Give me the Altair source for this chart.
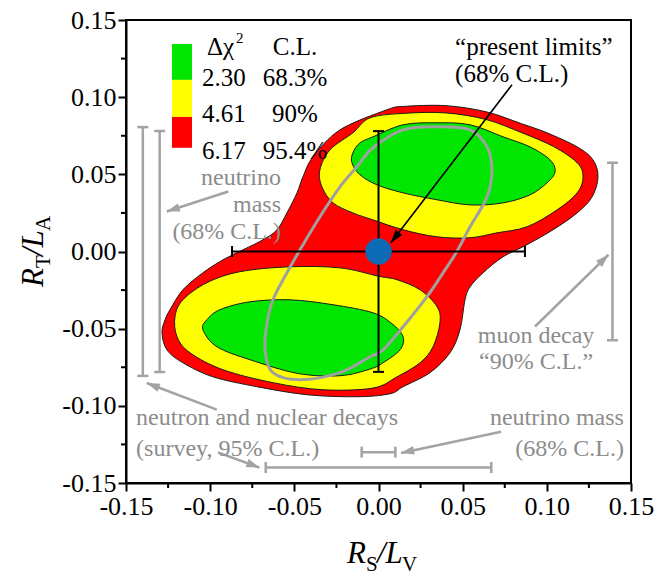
import math
import altair as alt
import pandas as pd

W, H = 505, 463
LIM = 0.15
SERIF = "Liberation Serif"
GRAY_TXT = "#8c8c8c"
GRAY_LN = "#a3a3a3"
BLUE = "#0d6ab4"
RED, YELLOW, GREEN = "#ff0000", "#ffff00", "#00e600"

MAJOR = [-0.15, -0.10, -0.05, 0.0, 0.05, 0.10, 0.15]
MINOR = [-0.125, -0.075, -0.025, 0.025, 0.075, 0.125]

# Δχ² = 6.17 (95.4% C.L.) allowed region, outline in (R_S/L_V, R_T/L_A)
RED_OUTLINE = [
    (-0.0229, 0.0788), (0.0049, 0.0918), (0.0150, 0.0940), (0.0400, 0.0945),
    (0.0640, 0.0905), (0.0850, 0.0828), (0.1001, 0.0769), (0.1180, 0.0678),
    (0.1274, 0.0594), (0.1304, 0.0484), (0.1269, 0.0354), (0.1180, 0.0250),
    (0.1037, 0.0141), (0.0870, 0.0037), (0.0740, -0.0034), (0.0621, -0.0138),
    (0.0544, -0.0229), (0.0514, -0.0313), (0.0484, -0.0507), (0.0425, -0.0656),
    (0.0306, -0.0785), (0.0146, -0.0876), (0.0068, -0.0922), (-0.0128, -0.0941),
    (-0.0425, -0.0928), (-0.0722, -0.0876), (-0.0983, -0.0812), (-0.1162, -0.0721),
    (-0.1257, -0.0637), (-0.1286, -0.0527), (-0.1268, -0.0443), (-0.1239, -0.0378),
    (-0.1162, -0.0248), (-0.1043, -0.0138), (-0.0924, -0.0054), (-0.0805, 0.0011),
    (-0.0686, 0.0076), (-0.0603, 0.0141), (-0.0544, 0.0250), (-0.0484, 0.0380),
    (-0.0449, 0.0484), (-0.0389, 0.0613),
]

# Δχ² = 4.61 (90% C.L.) regions
YELLOW_UPPER = [
    (-0.0152, 0.0769), (-0.0050, 0.0866), (0.0150, 0.0895), (0.0400, 0.0898),
    (0.0640, 0.0855), (0.0850, 0.0770), (0.1040, 0.0680), (0.1180, 0.0575),
    (0.1215, 0.0484), (0.1180, 0.0380), (0.1061, 0.0270), (0.0882, 0.0160),
    (0.0704, 0.0121), (0.0544, 0.0089), (0.0348, 0.0095), (0.0146, 0.0141),
    (-0.0033, 0.0205), (-0.0152, 0.0250), (-0.0270, 0.0315), (-0.0336, 0.0419),
    (-0.0348, 0.0529), (-0.0288, 0.0659),
]
YELLOW_LOWER = [
    (-0.0823, -0.0131), (-0.0526, -0.0099), (-0.0229, -0.0106), (0.0000, -0.0160),
    (0.0110, -0.0183), (0.0247, -0.0248), (0.0348, -0.0358), (0.0365, -0.0462),
    (0.0324, -0.0617), (0.0247, -0.0721), (0.0110, -0.0812), (-0.0033, -0.0885),
    (-0.0330, -0.0896), (-0.0627, -0.0850), (-0.0924, -0.0766), (-0.1120, -0.0656),
    (-0.1197, -0.0552), (-0.1209, -0.0423), (-0.1162, -0.0313), (-0.1019, -0.0202),
]

# Δχ² = 2.30 (68.3% C.L.) regions
GREEN_UPPER = [
    (-0.0152, 0.0640), (-0.0110, 0.0704), (-0.0033, 0.0743), (0.0146, 0.0821),
    (0.0348, 0.0834), (0.0544, 0.0821), (0.0740, 0.0743), (0.0900, 0.0678),
    (0.1019, 0.0594), (0.1049, 0.0516), (0.1001, 0.0445), (0.0900, 0.0367),
    (0.0740, 0.0315), (0.0544, 0.0302), (0.0348, 0.0335), (0.0146, 0.0380),
    (-0.0009, 0.0432), (-0.0110, 0.0497), (-0.0158, 0.0575),
]
GREEN_LOWER = [
    (-0.0942, -0.0377), (-0.0764, -0.0326), (-0.0526, -0.0313), (-0.0270, -0.0345),
    (-0.0033, -0.0397), (0.0080, -0.0468), (0.0146, -0.0552), (0.0128, -0.0637),
    (0.0027, -0.0721), (-0.0051, -0.0762), (-0.0229, -0.0805), (-0.0480, -0.0790),
    (-0.0764, -0.0701), (-0.0960, -0.0617), (-0.1043, -0.0507), (-0.1019, -0.0442),
]

# "present limits" (68% C.L.) closed curve
PRESENT_LIMITS = [
    (-0.0466, 0.0011), (-0.0348, 0.0225), (-0.0229, 0.0419), (-0.0128, 0.0549),
    (-0.0033, 0.0672), (0.0146, 0.0788), (0.0348, 0.0808), (0.0544, 0.0788),
    (0.0645, 0.0678), (0.0674, 0.0529), (0.0645, 0.0354), (0.0544, 0.0160),
    (0.0461, -0.0008), (0.0395, -0.0119), (0.0288, -0.0293), (0.0146, -0.0488),
    (0.0027, -0.0637), (-0.0051, -0.0682), (-0.0229, -0.0785), (-0.0466, -0.0831),
    (-0.0627, -0.0785), (-0.0674, -0.0637), (-0.0662, -0.0462), (-0.0627, -0.0313),
    (-0.0544, -0.0138),
]

# central value and its errors
CENTER = (0.0, 0.0)
ERR_X, ERR_Y = 0.087, 0.078

# other constraints: (position, low, high)
VERTICAL_BARS = [(-0.140, -0.0806, 0.0806), (-0.130, -0.0780, 0.0780), (0.139, -0.0575, 0.0575)]
HORIZONTAL_BARS = [(-0.140, -0.067, 0.067), (-0.130, -0.010, 0.010)]

# legend
LEGEND_COLORS = [GREEN, YELLOW, RED]
LEGEND_EDGES = [0.1345, 0.1112, 0.0872, 0.0672]
LEGEND_X = (-0.1227, -0.1108)
LEGEND_DCHI2 = ["2.30", "4.61", "6.17"]
LEGEND_CL = ["68.3%", "90%", "95.4%"]
LEGEND_ROW_Y = [0.1125, 0.0889, 0.0652]
LEGEND_HEAD_Y = 0.1326

# annotation arrows: start x, start y, tip x, tip y, colour
ARROWS = [
    (0.0793, 0.1080, 0.0074, 0.0056, "black"),
    (-0.0892, 0.0389, -0.1258, 0.0259, GRAY_LN),
    (-0.0961, -0.1025, -0.1377, -0.0852, GRAY_LN),
    (-0.0954, -0.1302, -0.0707, -0.1400, GRAY_LN),
    (0.0728, -0.1168, 0.0134, -0.1305, GRAY_LN),
    (0.0930, -0.0486, 0.1366, -0.0021, GRAY_LN),
]

LABEL_EXPR = "datum.value < 0 ? '-' + format(-datum.value, '.2f') : format(datum.value, '.2f')"
XSCALE = alt.Scale(domain=[-LIM, LIM], nice=False, zero=False)
YSCALE = alt.Scale(domain=[-LIM, LIM], nice=False, zero=False)
XAXIS = alt.Axis(values=MAJOR, title=None, labelExpr=LABEL_EXPR, grid=False,
                 labelFlush=False, labelOverlap=False, tickSize=8, labelPadding=2)
YAXIS = alt.Axis(values=MAJOR, title=None, labelExpr=LABEL_EXPR, grid=False,
                 labelFlush=False, labelOverlap=False, tickSize=8, labelPadding=2)


def X(field):
    return alt.X(field, type="quantitative", scale=XSCALE, axis=XAXIS)


def Y(field):
    return alt.Y(field, type="quantitative", scale=YSCALE, axis=YAXIS)


def outline_df(points):
    return pd.DataFrame({"x": [p[0] for p in points], "y": [p[1] for p in points],
                         "i": list(range(len(points)))})


def region(points, fill):
    return alt.Chart(outline_df(points)).mark_line(
        interpolate="cardinal-closed", fill=fill, stroke="#1a1a1a", strokeWidth=1
    ).encode(x=X("x"), y=Y("y"), order=alt.Order("i:Q"))


def texts(rows, align, color, size, style="normal", **kw):
    df = pd.DataFrame(rows, columns=["x", "y", "t"])
    return alt.Chart(df).mark_text(
        align=align, baseline="middle", font=SERIF, fontSize=size, color=color,
        fontStyle=style, **kw
    ).encode(x=X("x"), y=Y("y"), text="t:N")


layers = []

# confidence regions
layers.append(region(RED_OUTLINE, RED))
layers.append(region(YELLOW_UPPER, YELLOW))
layers.append(region(YELLOW_LOWER, YELLOW))
layers.append(region(GREEN_UPPER, GREEN))
layers.append(region(GREEN_LOWER, GREEN))

# present-limits curve
layers.append(alt.Chart(outline_df(PRESENT_LIMITS)).mark_line(
    interpolate="cardinal-closed", color="#a0a0a0", strokeWidth=3
).encode(x=X("x"), y=Y("y"), order=alt.Order("i:Q")))

# gray constraint bars with end caps
vb = pd.DataFrame(VERTICAL_BARS, columns=["x", "lo", "hi"])
layers.append(alt.Chart(vb).mark_rule(color=GRAY_LN, strokeWidth=2.5).encode(
    x=X("x"), y=Y("lo"), y2="hi"))
vcaps = pd.DataFrame([(b[0], b[1]) for b in VERTICAL_BARS] + [(b[0], b[2]) for b in VERTICAL_BARS],
                     columns=["x", "y"])
layers.append(alt.Chart(vcaps).mark_tick(orient="horizontal", size=11, thickness=2.5,
                                         color=GRAY_LN, opacity=1).encode(x=X("x"), y=Y("y")))
hb = pd.DataFrame(HORIZONTAL_BARS, columns=["y", "lo", "hi"])
layers.append(alt.Chart(hb).mark_rule(color=GRAY_LN, strokeWidth=2.5).encode(
    y=Y("y"), x=X("lo"), x2="hi"))
hcaps = pd.DataFrame([(b[1], b[0]) for b in HORIZONTAL_BARS] + [(b[2], b[0]) for b in HORIZONTAL_BARS],
                     columns=["x", "y"])
layers.append(alt.Chart(hcaps).mark_tick(orient="vertical", size=11, thickness=2.5,
                                         color=GRAY_LN, opacity=1).encode(x=X("x"), y=Y("y")))

# error bars on the central value
eb_h = pd.DataFrame({"y": [CENTER[1]], "lo": [CENTER[0] - ERR_X], "hi": [CENTER[0] + ERR_X]})
eb_v = pd.DataFrame({"x": [CENTER[0]], "lo": [CENTER[1] - ERR_Y], "hi": [CENTER[1] + ERR_Y]})
layers.append(alt.Chart(eb_h).mark_rule(color="black", strokeWidth=2).encode(
    y=Y("y"), x=X("lo"), x2="hi"))
layers.append(alt.Chart(eb_v).mark_rule(color="black", strokeWidth=2).encode(
    x=X("x"), y=Y("lo"), y2="hi"))
ecap_h = pd.DataFrame({"x": [CENTER[0] - ERR_X, CENTER[0] + ERR_X], "y": [CENTER[1]] * 2})
ecap_v = pd.DataFrame({"x": [CENTER[0]] * 2, "y": [CENTER[1] - ERR_Y, CENTER[1] + ERR_Y]})
layers.append(alt.Chart(ecap_h).mark_tick(orient="vertical", size=11, thickness=2,
                                          color="black", opacity=1).encode(x=X("x"), y=Y("y")))
layers.append(alt.Chart(ecap_v).mark_tick(orient="horizontal", size=11, thickness=2,
                                          color="black", opacity=1).encode(x=X("x"), y=Y("y")))

# central value
layers.append(alt.Chart(pd.DataFrame({"x": [CENTER[0]], "y": [CENTER[1]]})).mark_circle(
    size=700, color=BLUE, opacity=1).encode(x=X("x"), y=Y("y")))

# arrows: shafts and heads
px_per_x = W / (2 * LIM)
px_per_y = H / (2 * LIM)
shaft_rows, head_rows = [], []
for k, (x0, y0, x1, y1, c) in enumerate(ARROWS):
    shaft_rows += [(k, x0, y0, c), (k, x1, y1, c)]
    dx = (x1 - x0) * px_per_x
    dy = -(y1 - y0) * px_per_y
    ang = math.degrees(math.atan2(dx, -dy)) % 360
    head_rows.append((x1, y1, ang, c))
shafts = pd.DataFrame(shaft_rows, columns=["k", "x", "y", "c"])
heads = pd.DataFrame(head_rows, columns=["x", "y", "a", "c"])
for col, width in (("black", 1.6), (GRAY_LN, 2.5)):
    layers.append(alt.Chart(shafts[shafts.c == col]).mark_line(color=col, strokeWidth=width).encode(
        x=X("x"), y=Y("y"), detail="k:N"))
layers.append(alt.Chart(heads).mark_point(
    shape="M0,0L-0.75,2.3L0.75,2.3Z", filled=True, size=130, opacity=1, strokeWidth=0
).encode(x=X("x"), y=Y("y"), angle=alt.Angle("a:Q", scale=None),
         color=alt.Color("c:N", scale=None)))

# legend swatches and text
legend = pd.DataFrame({"x": [LEGEND_X[0]] * 3, "x2": [LEGEND_X[1]] * 3,
                       "y": LEGEND_EDGES[:-1], "y2": LEGEND_EDGES[1:], "c": LEGEND_COLORS})
layers.append(alt.Chart(legend).mark_rect().encode(
    x=X("x"), x2="x2", y=Y("y"), y2="y2", color=alt.Color("c:N", scale=None)))
layers.append(texts([(-0.1019, LEGEND_HEAD_Y, "Δχ")], "left", "black", 25))
layers.append(texts([(-0.1019, LEGEND_HEAD_Y, "2")], "left", "black", 15, dx=29, dy=-9))
layers.append(texts([(-0.0496, LEGEND_HEAD_Y, "C.L.")], "center", "black", 25))
layers.append(texts([(-0.1049, yy, t) for yy, t in zip(LEGEND_ROW_Y, LEGEND_DCHI2)],
                    "left", "black", 25))
layers.append(texts([(-0.0496, yy, t) for yy, t in zip(LEGEND_ROW_Y, LEGEND_CL)],
                    "center", "black", 25))

# annotations
layers.append(texts([(0.0455, 0.1326, "“present limits”"), (0.0455, 0.1151, "(68% C.L.)")],
                    "left", "black", 25))
layers.append(texts([(-0.0579, 0.0477, "neutrino"), (-0.0579, 0.0302, "mass"),
                     (-0.0579, 0.0127, "(68% C.L.)")], "right", GRAY_TXT, 24))
layers.append(texts([(-0.1440, -0.1077, "neutron and nuclear decays"),
                     (-0.1440, -0.1278, "(survey, 95% C.L.)")], "left", GRAY_TXT, 24))
layers.append(texts([(0.1458, -0.1077, "neutrino mass"), (0.1458, -0.1278, "(68% C.L.)")],
                    "right", GRAY_TXT, 24))
layers.append(texts([(0.0936, -0.0546, "muon decay"), (0.0936, -0.0714, "“90% C.L.”")],
                    "center", GRAY_TXT, 24))

# minor ticks outside the frame
minor = pd.DataFrame({"v": MINOR})
layers.append(alt.Chart(minor).mark_rule(color="black", strokeWidth=2).encode(
    x=X("v"), y=alt.value(H), y2=alt.value(H + 5)))
layers.append(alt.Chart(minor).mark_rule(color="black", strokeWidth=2).encode(
    y=Y("v"), x=alt.value(0), x2=alt.value(-5)))

# axis titles with subscripts
one = pd.DataFrame({"d": [0]})


def piece(txt, px, py, size, style, angle=0):
    kw = dict(align="left", baseline="alphabetic", font=SERIF, fontSize=size,
              fontStyle=style, color="black")
    if angle:
        kw["angle"] = angle
    return alt.Chart(one).mark_text(**kw).encode(
        x=alt.value(px), y=alt.value(py), text=alt.value(txt))


layers += [
    piece("R", 221, 543, 31, "italic"),
    piece("S", 240, 551, 21, "normal"),
    piece("/L", 251, 543, 31, "italic"),
    piece("V", 276, 551, 21, "normal"),
    piece("R", -83, 267, 31, "italic", 270),
    piece("T", -76, 248, 21, "normal", 270),
    piece("/L", -83, 236, 31, "italic", 270),
    piece("A", -76, 211, 21, "normal", 270),
]

chart = alt.layer(*layers).properties(
    width=W, height=H,
    autosize=alt.AutoSizeParams(type="none"),
    padding={"left": 126, "top": 20, "right": 29, "bottom": 101},
    background="white",
).configure_view(
    stroke="black", strokeWidth=2
).configure_axis(
    labelFont=SERIF, labelFontSize=26, labelColor="black", tickColor="black",
    domainColor="black", tickWidth=2, domainWidth=2
)

chart.save("out.html", embed_options={"renderer": "svg", "actions": False})
